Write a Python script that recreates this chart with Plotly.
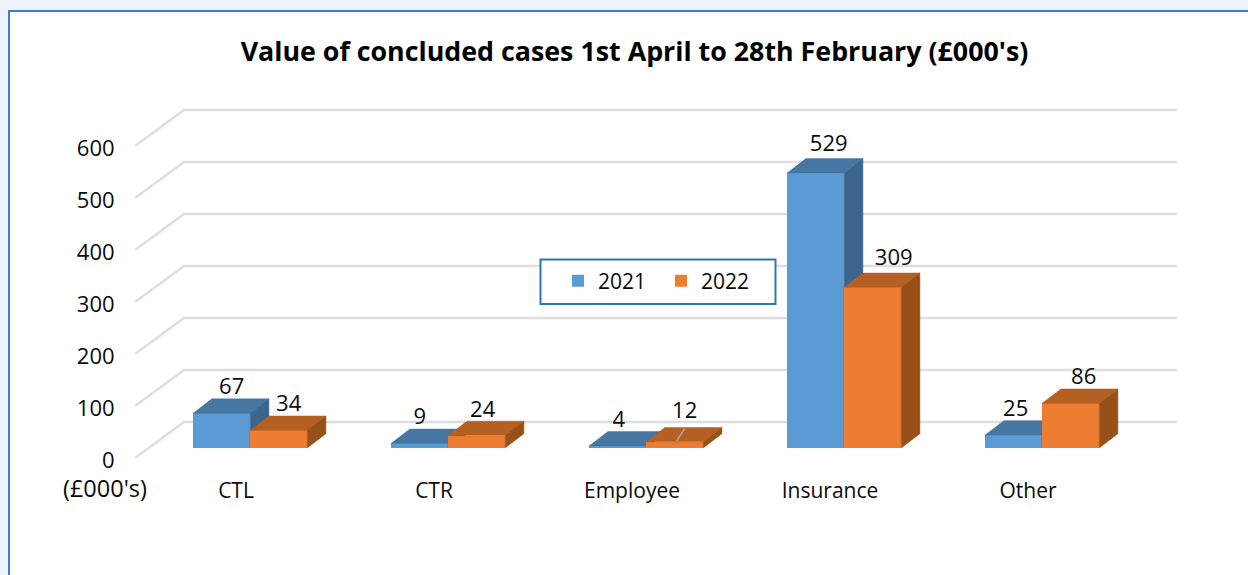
import plotly.graph_objects as go

categories = ["CTL", "CTR", "Employee", "Insurance", "Other"]
values_2021 = [67, 9, 4, 529, 25]
values_2022 = [34, 24, 12, 309, 86]
y_ticks = [0, 100, 200, 300, 400, 500, 600]

W, H = 1248, 575
FONT = "Open Sans"
TEXT = "#0A0A0A"
PX_X = 198.0      # pixels per category
PX_Y = 0.52       # pixels per value unit
ORIGIN_X = 236.0  # pixel of category 0 on the front plane
ORIGIN_Y = 458.0  # pixel of value 0 on the front plane

def ux(px):
    return px / PX_X

def uy(px):
    return px / PX_Y

x_range = [-ORIGIN_X / PX_X, (W - ORIGIN_X) / PX_X]
y_range = [-(H - ORIGIN_Y) / PX_Y, ORIGIN_Y / PX_Y]

BAR_W = ux(57)
BAR_SHIFT_X = ux(14.2)
BAR_BASE = uy(10)
DEPTH_X = ux(18.7)
DEPTH_Y = uy(14.3)

BLUE, BLUE_TOP, BLUE_SIDE = "#5B9BD5", "#4676A2", "#3B658C"
ORANGE, ORANGE_TOP, ORANGE_SIDE = "#ED7D31", "#B55F22", "#985019"
GRID = "#DEDEDE"

fig = go.Figure()

# Back wall and side wall gridlines, from the axis ticks
gx, gy = [], []
wall_l = (135 - ORIGIN_X) / PX_X
wall_m = (184 - ORIGIN_X) / PX_X
wall_r = (1177 - ORIGIN_X) / PX_X
for t in y_ticks:
    gx += [wall_l, wall_m, wall_r, None]
    gy += [t, t + uy(36), t + uy(36), None]
fig.add_trace(go.Scatter(x=gx, y=gy, mode="lines", line=dict(color=GRID, width=2.5),
                         hoverinfo="skip", showlegend=False, xaxis="x", yaxis="y"))


def add_series(name, vals, side, color, top_c, side_c, ax):
    xa, ya = ("x" + ax), ("y" + ax)
    centers = [i + BAR_SHIFT_X + side * BAR_W / 2 for i in range(len(vals))]
    fig.add_trace(go.Bar(name=name, x=centers, y=vals, base=[BAR_BASE] * len(vals),
                         width=BAR_W, marker=dict(color=color, line=dict(width=0)),
                         xaxis=xa, yaxis=ya, hovertemplate="%{y}<extra>" + name + "</extra>"))
    tx, ty, sx, sy = [], [], [], []
    for c, v in zip(centers, vals):
        l, r = c - BAR_W / 2, c + BAR_W / 2
        t = BAR_BASE + v
        tx += [l, r, r + DEPTH_X, l + DEPTH_X, l, None]
        ty += [t, t, t + DEPTH_Y, t + DEPTH_Y, t, None]
        sx += [r, r + DEPTH_X, r + DEPTH_X, r, r, None]
        sy += [BAR_BASE, BAR_BASE + DEPTH_Y, t + DEPTH_Y, t, BAR_BASE, None]
    for px_, py_, col in ((tx, ty, top_c), (sx, sy, side_c)):
        fig.add_trace(go.Scatter(x=px_, y=py_, mode="lines", fill="toself", fillcolor=col,
                                 line=dict(color=col, width=0.5), hoverinfo="skip",
                                 showlegend=False, xaxis=xa, yaxis=ya))


add_series("2021", values_2021, -1, BLUE, BLUE_TOP, BLUE_SIDE, "2")
add_series("2022", values_2022, 1, ORANGE, ORANGE_TOP, ORANGE_SIDE, "3")

# Data labels with the small nudges the original has (pixels)
nudge_2021 = [(0, 0), (-10, 0), (-9, 0), (3, 3), (-8, 0)]
nudge_2022 = [(0, 0), (-4, 0), (0, 5), (11, 3), (3, 0)]
lx, ly, lt = [], [], []
for side, vals, nudge in ((-1, values_2021, nudge_2021), (1, values_2022, nudge_2022)):
    for i, v in enumerate(vals):
        lx.append(i + BAR_SHIFT_X + side * BAR_W / 2 + ux(10 + nudge[i][0]))
        ly.append(BAR_BASE + v + uy(24.5 + nudge[i][1]))
        lt.append(str(v))
fig.add_trace(go.Scatter(x=lx, y=ly, text=lt, mode="text", textposition="middle center",
                         textfont=dict(family=FONT, size=22, color=TEXT),
                         hoverinfo="skip", showlegend=False, xaxis="x3", yaxis="y3"))

# Leader line of the Employee 2022 label
emp = categories.index("Employee")
lead_x0 = emp + BAR_SHIFT_X + BAR_W / 2 + ux(2)
fig.add_trace(go.Scatter(x=[lead_x0, lead_x0 + ux(8)],
                         y=[BAR_BASE + values_2022[emp] + uy(1),
                            BAR_BASE + values_2022[emp] + uy(13)],
                         mode="lines", line=dict(color="#A6A6A6", width=1.5),
                         hoverinfo="skip", showlegend=False, xaxis="x3", yaxis="y3"))

hidden = dict(visible=False, range=x_range, domain=[0, 1], fixedrange=True)
hidden_y = dict(visible=False, range=y_range, domain=[0, 1], fixedrange=True)

fig.update_layout(
    width=W, height=H, autosize=False,
    margin=dict(l=0, r=0, t=0, b=0, pad=0),
    paper_bgcolor="#EEF3FB", plot_bgcolor="rgba(0,0,0,0)",
    font=dict(family=FONT, size=21, color=TEXT),
    title=dict(text="<b>Value of concluded cases 1st April to 28th February (£000's)</b>",
               x=634.5 / W, y=1 - 52 / H, xanchor="center", yanchor="middle",
               xref="paper", yref="paper",
               font=dict(family=FONT, size=26.8, color="#000000")),
    barmode="overlay", bargap=0,
    xaxis=dict(range=x_range, domain=[0, 1], anchor="free", position=(H - ORIGIN_Y) / H,
               tickmode="array", tickvals=list(range(len(categories))), ticktext=categories,
               ticks="outside", ticklen=14, tickcolor="rgba(0,0,0,0)", showline=False,
               showgrid=False, zeroline=False, fixedrange=True,
               tickfont=dict(family=FONT, size=21, color=TEXT)),
    yaxis=dict(range=y_range, domain=[0, 1], anchor="free", position=120 / W,
               tickmode="array", tickvals=y_ticks, ticks="outside", ticklen=1,
               ticklabelshift=2,
               tickcolor="rgba(0,0,0,0)", showline=False, showgrid=False, zeroline=False,
               fixedrange=True, tickfont=dict(family=FONT, size=22, color=TEXT)),
    xaxis2=dict(hidden, anchor="y2"), yaxis2=dict(hidden_y, anchor="x2"),
    xaxis3=dict(hidden, anchor="y3"), yaxis3=dict(hidden_y, anchor="x3"),
    legend=dict(orientation="h", x=558 / W, y=1 - 281 / H, xanchor="left", yanchor="middle",
                bgcolor="rgba(0,0,0,0)", borderwidth=0, entrywidth=58,
                entrywidthmode="pixels", font=dict(family=FONT, size=21, color=TEXT)),
    shapes=[
        dict(type="rect", xref="paper", yref="paper", layer="below",
             x0=9 / W, x1=1.02, y0=-0.02, y1=1 - 11 / H,
             fillcolor="white", line=dict(color="#3C7FC0", width=2)),
        dict(type="rect", xref="paper", yref="paper", layer="above",
             x0=540.5 / W, x1=775.5 / W, y0=1 - 304 / H, y1=1 - 259.5 / H,
             fillcolor="white", line=dict(color="#2E75B6", width=2)),
    ],
    annotations=[dict(text="(£000's)", xref="paper", yref="paper", x=105 / W, y=1 - 488 / H,
                      xanchor="center", yanchor="middle", showarrow=False,
                      font=dict(family=FONT, size=23.5, color=TEXT))],
)

fig.write_html("out.html", config=dict(displayModeBar=False, staticPlot=False),
               post_script="document.body.style.margin='0';document.body.style.overflow='hidden';")
